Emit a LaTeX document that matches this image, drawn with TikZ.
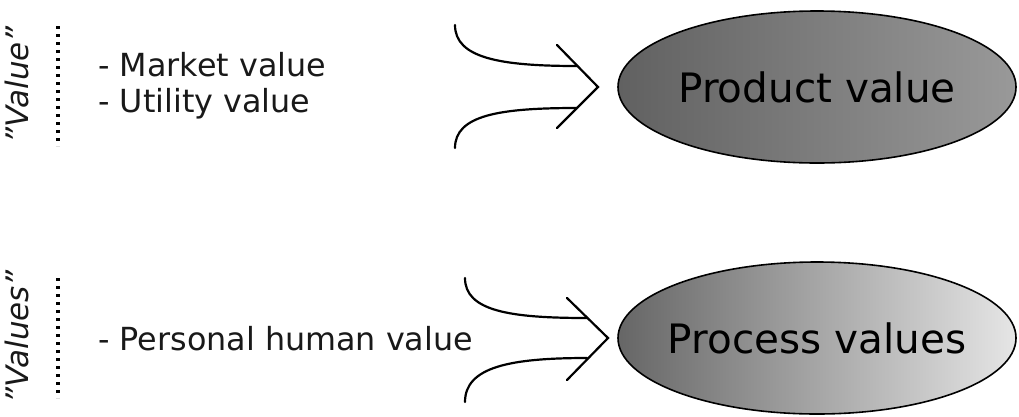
\documentclass[tikz,border=0pt]{standalone}
\usepackage{fontspec}
\setmainfont{DejaVu Sans}
\usetikzlibrary{shapes.geometric}
\definecolor{ta}{gray}{0.38}
\definecolor{tb}{gray}{0.60}
\definecolor{ba}{gray}{0.40}
\definecolor{bb}{gray}{0.90}
\definecolor{ink}{gray}{0.1}
\tikzset{
  bubble/.style={ellipse, draw=black, line width=1.6pt, minimum width=398pt, minimum height=152pt, inner sep=0pt},
  bubbletext/.style={inner sep=0pt, text=black, font=\fontsize{40.5}{48}\selectfont},
  item/.style={anchor=base west, inner sep=0pt, text=ink, font=\fontsize{31.8}{38}\selectfont},
  side/.style={rotate=90, inner sep=0pt, text=ink, font=\itshape\fontsize{31}{37}\selectfont},
  dots/.style={line width=3.5pt, dash pattern=on 3pt off 5pt},
  curve/.style={line width=2.2pt, line cap=round},
  chev/.style={line width=2.2pt, line cap=round, line join=miter}
}
\begin{document}
\begin{tikzpicture}[x=1pt,y=-1pt]
\useasboundingbox (0,0) rectangle (1019,416);
% top group
\node[side] (lv) at (17,85) {”Value”};
\coordinate (d1a) at (58,26);
\coordinate (d1b) at (58,146);
\draw[dots] (d1a) -- (d1b);
\node[item] (m1) at (98,76) {- Market value};
\node[item] (m2) at (98,112) {- Utility value};
\coordinate (a1s) at (455,25);
\coordinate (a1e) at (577,66);
\coordinate (b1s) at (455,148);
\coordinate (b1e) at (577,108);
\coordinate (c1a) at (557,45);
\coordinate (c1t) at (598,87);
\coordinate (c1b) at (557,128);
\draw[curve] (a1s) .. controls (455,58) and (500,66) .. (a1e);
\draw[curve] (b1s) .. controls (455,115) and (500,108) .. (b1e);
\draw[chev] (c1a) -- (c1t) -- (c1b);
\node[bubble, left color=ta, right color=tb] (pv) at (817,87) {};
\node[bubbletext] (pvt) at (pv.center) {Product value};
% bottom group
\node[side] (lvs) at (17,337) {”Values”};
\coordinate (d2a) at (58,278);
\coordinate (d2b) at (58,398);
\draw[dots] (d2a) -- (d2b);
\node[item] (m3) at (98,350) {- Personal human value};
\coordinate (a2s) at (465,278);
\coordinate (a2e) at (587,318);
\coordinate (b2s) at (465,402);
\coordinate (b2e) at (587,358);
\coordinate (c2a) at (567,298);
\coordinate (c2t) at (608,338);
\coordinate (c2b) at (567,380);
\draw[curve] (a2s) .. controls (465,311) and (510,318) .. (a2e);
\draw[curve] (b2s) .. controls (465,367) and (510,358) .. (b2e);
\draw[chev] (c2a) -- (c2t) -- (c2b);
\node[bubble, left color=ba, right color=bb] (pr) at (817,338) {};
\node[bubbletext] (prt) at (pr.center) {Process values};
\end{tikzpicture}
\end{document}
